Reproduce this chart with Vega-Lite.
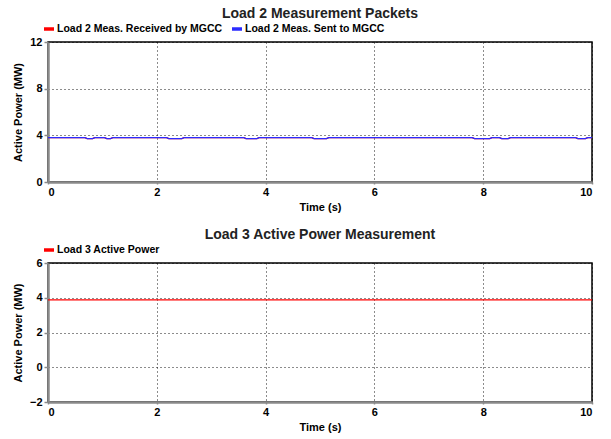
{
  "$schema": "https://vega.github.io/schema/vega-lite/v6.json",
  "background": "white",
  "padding": {"left": 11, "top": 6, "right": 14, "bottom": 2},
  "spacing": 14,
  "config": {
    "font": "Liberation Sans",
    "view": {"stroke": "black", "strokeWidth": 1.5},
    "title": {"fontSize": 14, "fontWeight": "bold", "color": "#222", "anchor": "middle", "offset": 1},
    "axis": {
      "labelFont": "Liberation Sans", "labelFontWeight": "bold", "labelFontSize": 11, "labelColor": "black",
      "titleFont": "Liberation Sans", "titleFontWeight": "bold", "titleFontSize": 11, "titleColor": "black",
      "domainColor": "#8a8a8a", "domainWidth": 2.5,
      "tickColor": "#8a8a8a", "tickSize": 4, "tickWidth": 1.5,
      "gridColor": "black", "gridDash": [1, 3], "gridWidth": 1, "gridOpacity": 0.9
    },
    "legend": {
      "labelFont": "Liberation Sans", "labelFontWeight": "bold", "labelFontSize": 10.5, "labelColor": "black", "labelLimit": 400,
      "symbolType": "stroke", "symbolStrokeWidth": 3.5, "symbolSize": 100, "columnPadding": 2, "labelOffset": 1,
      "orient": "none", "direction": "horizontal", "legendX": -6, "legendY": -20, "title": null
    }
  },
  "datasets": {
    "load2": [
      {"series": "Load 2 Meas. Received by MGCC", "t": 0, "p": 3.8},
      {"series": "Load 2 Meas. Received by MGCC", "t": 0.68, "p": 3.8},
      {"series": "Load 2 Meas. Received by MGCC", "t": 0.72, "p": 3.72},
      {"series": "Load 2 Meas. Received by MGCC", "t": 0.82, "p": 3.72},
      {"series": "Load 2 Meas. Received by MGCC", "t": 0.86, "p": 3.8},
      {"series": "Load 2 Meas. Received by MGCC", "t": 1.04, "p": 3.8},
      {"series": "Load 2 Meas. Received by MGCC", "t": 1.08, "p": 3.72},
      {"series": "Load 2 Meas. Received by MGCC", "t": 1.15, "p": 3.72},
      {"series": "Load 2 Meas. Received by MGCC", "t": 1.19, "p": 3.8},
      {"series": "Load 2 Meas. Received by MGCC", "t": 2.18, "p": 3.8},
      {"series": "Load 2 Meas. Received by MGCC", "t": 2.22, "p": 3.72},
      {"series": "Load 2 Meas. Received by MGCC", "t": 2.46, "p": 3.72},
      {"series": "Load 2 Meas. Received by MGCC", "t": 2.5, "p": 3.8},
      {"series": "Load 2 Meas. Received by MGCC", "t": 3.6, "p": 3.8},
      {"series": "Load 2 Meas. Received by MGCC", "t": 3.64, "p": 3.72},
      {"series": "Load 2 Meas. Received by MGCC", "t": 3.84, "p": 3.72},
      {"series": "Load 2 Meas. Received by MGCC", "t": 3.88, "p": 3.8},
      {"series": "Load 2 Meas. Received by MGCC", "t": 4.85, "p": 3.8},
      {"series": "Load 2 Meas. Received by MGCC", "t": 4.89, "p": 3.72},
      {"series": "Load 2 Meas. Received by MGCC", "t": 5.12, "p": 3.72},
      {"series": "Load 2 Meas. Received by MGCC", "t": 5.16, "p": 3.8},
      {"series": "Load 2 Meas. Received by MGCC", "t": 7.8, "p": 3.8},
      {"series": "Load 2 Meas. Received by MGCC", "t": 7.84, "p": 3.72},
      {"series": "Load 2 Meas. Received by MGCC", "t": 8.12, "p": 3.72},
      {"series": "Load 2 Meas. Received by MGCC", "t": 8.16, "p": 3.8},
      {"series": "Load 2 Meas. Received by MGCC", "t": 8.3, "p": 3.8},
      {"series": "Load 2 Meas. Received by MGCC", "t": 8.34, "p": 3.72},
      {"series": "Load 2 Meas. Received by MGCC", "t": 8.46, "p": 3.72},
      {"series": "Load 2 Meas. Received by MGCC", "t": 8.5, "p": 3.8},
      {"series": "Load 2 Meas. Received by MGCC", "t": 9.7, "p": 3.8},
      {"series": "Load 2 Meas. Received by MGCC", "t": 9.74, "p": 3.72},
      {"series": "Load 2 Meas. Received by MGCC", "t": 9.88, "p": 3.72},
      {"series": "Load 2 Meas. Received by MGCC", "t": 9.92, "p": 3.8},
      {"series": "Load 2 Meas. Received by MGCC", "t": 10, "p": 3.8},
      {"series": "Load 2 Meas. Sent to MGCC", "t": 0, "p": 3.8},
      {"series": "Load 2 Meas. Sent to MGCC", "t": 0.68, "p": 3.8},
      {"series": "Load 2 Meas. Sent to MGCC", "t": 0.72, "p": 3.72},
      {"series": "Load 2 Meas. Sent to MGCC", "t": 0.82, "p": 3.72},
      {"series": "Load 2 Meas. Sent to MGCC", "t": 0.86, "p": 3.8},
      {"series": "Load 2 Meas. Sent to MGCC", "t": 1.04, "p": 3.8},
      {"series": "Load 2 Meas. Sent to MGCC", "t": 1.08, "p": 3.72},
      {"series": "Load 2 Meas. Sent to MGCC", "t": 1.15, "p": 3.72},
      {"series": "Load 2 Meas. Sent to MGCC", "t": 1.19, "p": 3.8},
      {"series": "Load 2 Meas. Sent to MGCC", "t": 2.18, "p": 3.8},
      {"series": "Load 2 Meas. Sent to MGCC", "t": 2.22, "p": 3.72},
      {"series": "Load 2 Meas. Sent to MGCC", "t": 2.46, "p": 3.72},
      {"series": "Load 2 Meas. Sent to MGCC", "t": 2.5, "p": 3.8},
      {"series": "Load 2 Meas. Sent to MGCC", "t": 3.6, "p": 3.8},
      {"series": "Load 2 Meas. Sent to MGCC", "t": 3.64, "p": 3.72},
      {"series": "Load 2 Meas. Sent to MGCC", "t": 3.84, "p": 3.72},
      {"series": "Load 2 Meas. Sent to MGCC", "t": 3.88, "p": 3.8},
      {"series": "Load 2 Meas. Sent to MGCC", "t": 4.85, "p": 3.8},
      {"series": "Load 2 Meas. Sent to MGCC", "t": 4.89, "p": 3.72},
      {"series": "Load 2 Meas. Sent to MGCC", "t": 5.12, "p": 3.72},
      {"series": "Load 2 Meas. Sent to MGCC", "t": 5.16, "p": 3.8},
      {"series": "Load 2 Meas. Sent to MGCC", "t": 7.8, "p": 3.8},
      {"series": "Load 2 Meas. Sent to MGCC", "t": 7.84, "p": 3.72},
      {"series": "Load 2 Meas. Sent to MGCC", "t": 8.12, "p": 3.72},
      {"series": "Load 2 Meas. Sent to MGCC", "t": 8.16, "p": 3.8},
      {"series": "Load 2 Meas. Sent to MGCC", "t": 8.3, "p": 3.8},
      {"series": "Load 2 Meas. Sent to MGCC", "t": 8.34, "p": 3.72},
      {"series": "Load 2 Meas. Sent to MGCC", "t": 8.46, "p": 3.72},
      {"series": "Load 2 Meas. Sent to MGCC", "t": 8.5, "p": 3.8},
      {"series": "Load 2 Meas. Sent to MGCC", "t": 9.7, "p": 3.8},
      {"series": "Load 2 Meas. Sent to MGCC", "t": 9.74, "p": 3.72},
      {"series": "Load 2 Meas. Sent to MGCC", "t": 9.88, "p": 3.72},
      {"series": "Load 2 Meas. Sent to MGCC", "t": 9.92, "p": 3.8},
      {"series": "Load 2 Meas. Sent to MGCC", "t": 10, "p": 3.8}
    ],
    "load3": [
      {"series": "Load 3 Active Power", "t": 0, "p": 3.88},
      {"series": "Load 3 Active Power", "t": 10, "p": 3.88}
    ]
  },
  "vconcat": [
    {
      "title": "Load 2 Measurement Packets",
      "width": 544,
      "height": 140,
      "data": {"name": "load2"},
      "encoding": {
        "x": {"field": "t", "type": "quantitative", "scale": {"domain": [0, 10], "nice": false},
              "axis": {"title": "Time (s)", "values": [0, 2, 4, 6, 8, 10], "gridValues": [2, 4, 6, 8], "grid": true, "tickSize": 2, "labelPadding": 2, "titlePadding": 4}},
        "y": {"field": "p", "type": "quantitative", "scale": {"domain": [0, 12], "nice": false},
              "axis": {"title": "Active Power (MW)", "values": [0, 4, 8, 12], "gridValues": [4, 8], "grid": true, "titlePadding": 6}},
        "color": {"field": "series", "type": "nominal",
                  "scale": {"domain": ["Load 2 Meas. Received by MGCC", "Load 2 Meas. Sent to MGCC"], "range": ["#ff0000", "#2b2bff"]},
                  "legend": {}}
      },
      "layer": [
        {"transform": [{"filter": "datum.series === 'Load 2 Meas. Received by MGCC'"}],
         "mark": {"type": "line", "strokeWidth": 1.2}},
        {"transform": [{"filter": "datum.series === 'Load 2 Meas. Sent to MGCC'"}],
         "mark": {"type": "line", "strokeWidth": 1.4}}
      ]
    },
    {
      "title": "Load 3 Active Power Measurement",
      "width": 544,
      "height": 139,
      "data": {"name": "load3"},
      "mark": {"type": "line", "strokeWidth": 1.2},
      "encoding": {
        "x": {"field": "t", "type": "quantitative", "scale": {"domain": [0, 10], "nice": false},
              "axis": {"title": "Time (s)", "values": [0, 2, 4, 6, 8, 10], "gridValues": [2, 4, 6, 8], "grid": true, "tickSize": 2, "labelPadding": 2, "titlePadding": 4}},
        "y": {"field": "p", "type": "quantitative", "scale": {"domain": [-2, 6], "nice": false},
              "axis": {"title": "Active Power (MW)", "values": [-2, 0, 2, 4, 6], "gridValues": [0, 2, 4], "grid": true, "titlePadding": 6}},
        "color": {"field": "series", "type": "nominal",
                  "scale": {"domain": ["Load 3 Active Power"], "range": ["#ff0000"]},
                  "legend": {}}
      }
    }
  ],
  "resolve": {"scale": {"color": "independent"}, "legend": {"color": "independent"}}
}
